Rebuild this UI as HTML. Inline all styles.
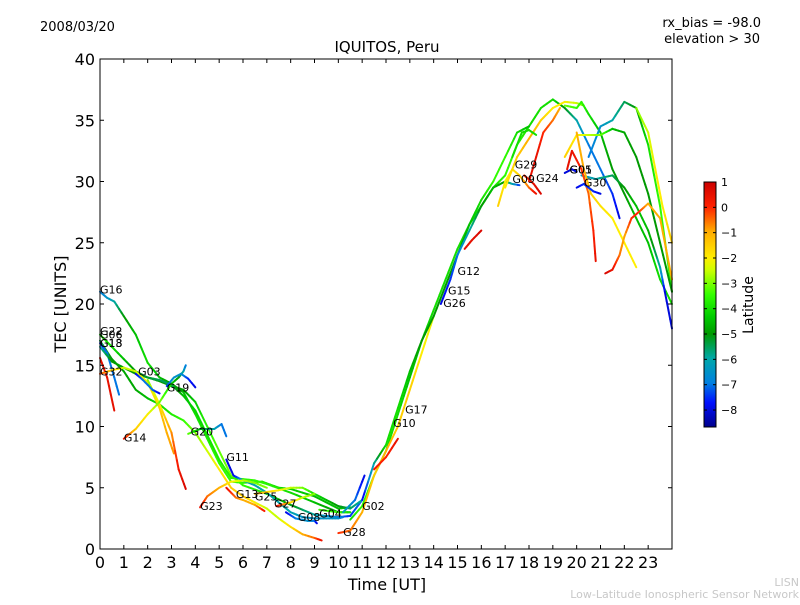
<!DOCTYPE html>
<html><head><meta charset="utf-8"><style>
body{margin:0;background:#fff;}
svg text{font-family:"DejaVu Sans","Liberation Sans",sans-serif;}
</style></head><body>
<svg id="chart" width="800" height="600" xmlns="http://www.w3.org/2000/svg">
<defs>
<linearGradient id="cbgrad" x1="0" y1="1" x2="0" y2="0">
<stop offset="0" stop-color="#00008c"/>
<stop offset="0.1" stop-color="#0010ff"/>
<stop offset="0.18" stop-color="#0080e0"/>
<stop offset="0.28" stop-color="#00a8a8"/>
<stop offset="0.38" stop-color="#009900"/>
<stop offset="0.45" stop-color="#00cc00"/>
<stop offset="0.54" stop-color="#33ff00"/>
<stop offset="0.64" stop-color="#ccff00"/>
<stop offset="0.69" stop-color="#ffee00"/>
<stop offset="0.8" stop-color="#ffaa00"/>
<stop offset="0.9" stop-color="#ff2000"/>
<stop offset="1" stop-color="#cc0000"/>
</linearGradient>
</defs>
<text x="40" y="31" font-size="13">2008/03/20</text>
<text x="761" y="27" font-size="13" text-anchor="end">rx_bias = -98.0</text>
<text x="760" y="43" font-size="13" text-anchor="end">elevation &gt; 30</text>
<text x="387" y="52" font-size="15" text-anchor="middle">IQUITOS, Peru</text>
<g id="plot"></g>
<rect x="100" y="59" width="572" height="490" fill="none" stroke="#000" stroke-width="1"/>
<g id="axes"></g>
<text x="387" y="590" font-size="16" text-anchor="middle">Time [UT]</text>
<text x="66" y="304" font-size="16" text-anchor="middle" transform="rotate(-90 66 304)">TEC [UNITS]</text>
<rect x="704" y="182" width="12" height="245" fill="url(#cbgrad)" stroke="#000" stroke-width="1"/>
<g id="cbticks"></g>
<text x="753" y="305" font-size="14" text-anchor="middle" transform="rotate(-90 753 305)">Latitude</text>
<text x="799" y="586" font-size="11" fill="#c8c8c8" text-anchor="end">LISN</text>
<text x="799" y="598" font-size="11" fill="#c8c8c8" text-anchor="end">Low-Latitude Ionospheric Sensor Network</text>
</svg>
<script>
const xTicks=[0,1,2,3,4,5,6,7,8,9,10,11,12,13,14,15,16,17,18,19,20,21,22,23];
const yTicks=[0,5,10,15,20,25,30,35,40];
const cbTicks=[1,0,-1,-2,-3,-4,-5,-6,-7,-8];
// tracks: [time UT, TEC, latitude]
const trkG16=[[0,21,-7],[0.3,20.5,-6.5],[0.6,20.2,-6],[1,19,-5],[1.5,17.5,-4.5],[2,15.2,-4],[2.5,14,-4.5],[3,13.5,-5],[3.5,12.8,-4.5],[4,11,-4],[4.5,9,-3.8],[5,7,-3.5],[5.5,5.5,-3.5],[6,5.4,-3.5],[6.8,5.5,-3.8],[7.5,5,-4],[8,4.9,-4.2],[9,4.3,-4.5],[10,3.3,-4.5],[10.5,3.4,-4.2]];
const trkG22=[[0,17.5,-4],[0.5,16.5,-4],[1,15.5,-4.5],[1.5,14.5,-5],[2,14,-5.5],[2.5,13.7,-5],[3,13.3,-5],[3.5,13,-5],[4,12,-4.3],[4.5,10,-3.6],[5,8,-3.2],[5.5,6,-3],[6,5.2,-3.5],[7,4.5,-4],[8,3.6,-5],[9,2.8,-6],[10,2.6,-7],[10.5,2.7,-7.5],[11,4,-7]];
const trkG06=[[0,17,-5.5],[0.5,15.5,-5],[1,14.5,-4.8],[1.5,13,-4.8],[2,12.3,-4.5],[2.5,11.8,-4],[3,11,-3.8],[3.5,10.5,-3.5],[4,9.5,-3],[4.5,8,-2.5],[5,6.5,-2],[5.5,5,-1.5],[6,4.3,-1.5],[6.5,3.8,-2],[7,3.3,-2.5],[7.5,2.5,-2.5],[8,1.8,-1.8],[8.5,1.2,-1],[9,0.9,-0.5],[9.3,0.7,0.5]];
const trkG18=[[0,16.8,-7.5],[0.3,16,-7],[0.6,14,-7],[0.8,12.6,-7]];
const trkG13a=[[0,16.5,-6],[0.5,15.3,-5],[1,14.8,-4.8],[1.5,14.3,-5],[2,14,-5.2],[2.5,13.8,-5.5],[3,13.4,-5.5],[3.5,12.5,-4.5],[4,11.3,-4.2],[4.5,9.3,-4],[5,7.3,-3.8],[5.5,5.8,-3.6],[6.5,5.6,-3.5],[7,5.3,-3.6],[8,4.6,-4],[9,3.8,-4.5],[10,3,-5],[10.5,3,-5.5]];
const trkG32r=[[0,15.6,0.5],[0.3,14,0.5],[0.6,11.3,0.5]];
const trkG32=[[0,14.3,0],[0.5,14.6,-1.5],[1,14.8,-2.5],[1.5,14.5,-2.5],[2,13.6,-2],[2.5,11.5,-1.5],[2.8,9.5,-1],[3.1,7.8,-0.8]];
const trkRed=[[2,13.8,-3],[2.5,11.8,-2],[3,9.5,-0.8],[3.3,6.5,0.3],[3.6,4.9,0.8]];
const trkG14=[[1,9,0.5],[1.5,9.8,-1.5],[2,11,-2],[2.5,12,-3],[3,13.5,-4],[3.3,14,-5],[3.5,14.5,-6],[3.6,15,-7]];
const trkG03=[[1.5,14.3,-8],[1.8,13.8,-7],[2.2,13,-7],[2.5,12.7,-8]];
const trkG19=[[2.8,13.3,-7.5],[3.1,14,-6.5],[3.4,14.3,-6.5],[3.7,13.9,-7.5],[4,13.2,-8]];
const trkG20=[[3.7,9.4,-3],[4.2,9.8,-5],[4.8,9.8,-6],[5.1,10.2,-7],[5.3,9.2,-7]];
const trkG11=[[5.3,7.3,-8],[5.6,6,-8],[6,5.6,-6.5],[6.5,5.2,-6],[7,4.6,-6],[7.5,3.8,-6],[8,3,-6],[8.5,2.6,-6.5],[9,2.5,-6.5],[9.5,2.5,-6.5],[10,2.5,-6.5],[10.2,2.6,-7]];
const trkG23=[[4.2,3.4,0.5],[4.5,4.3,-0.5],[5,5,-1],[5.5,5.5,-2],[6,5.6,-2.5],[6.5,5.4,-3],[7,5,-3]];
const trkG13b=[[5.3,5,0.5],[5.7,4.2,-0.5],[6,4,-1],[6.5,3.6,-1],[6.9,3.1,0.3]];
const trkG25=[[6.5,4.5,-1],[7.5,4.8,-2],[8,5,-2.5],[8.5,5,-3],[9,4.5,-4],[9.5,4,-4.5],[10,3.5,-5],[10.5,3.3,-5.5],[11,4,-6]];
const trkG27=[[7.4,3.5,0.5],[8,3.8,-1.5],[8.5,4.2,-2.5],[9,4.5,-3]];
const trkG08=[[7.8,3,-8],[8.2,2.5,-7],[8.7,2.3,-6.5],[9,2.3,-7],[9.1,2.1,-8]];
const trkG04=[[9.2,3.2,-3.5],[10,3,-3.5],[10.5,3,-4]];
const trkBlue=[[10.2,3,-6],[10.7,4,-7],[11.1,6,-8]];
const trkG02=[[10.5,2.4,-4],[11,3.5,-3.5],[11.5,6,-3.5],[12,8,-4],[12.5,11,-4],[13,14,-4.5],[13.5,17,-4.5],[14,19.5,-4],[14.5,22,-4],[15,24.5,-4],[15.5,26.5,-4],[16,28,-4],[16.5,29.5,-4],[17,30.5,-3.5],[17.5,33,-3.5],[18,34.5,-4],[18.5,36,-4],[19,36.7,-4],[19.5,36,-5],[20,35,-6],[20.5,33,-7],[21,31,-7],[21.5,29,-7.5],[21.8,27,-8]];
const trkG28=[[10,1.3,0],[10.5,1.5,-0.5],[11,3,-1],[11.5,6,-1.5],[12,8,-1],[12.5,10,-1.5],[13,13,-1.5],[13.5,16,-2],[14,19,-2.2]];
const trkG10=[[11,4,-8],[11.5,7,-6],[12,8.5,-4],[12.5,11.5,-4],[13,14.5,-4.5],[13.5,17,-5],[14,19,-5],[14.5,21.5,-5],[15,24,-5],[15.5,26.5,-4.5],[16,28.5,-4],[16.5,30,-3.5],[17,32,-3.5],[17.5,34,-4],[18,34.5,-4.5]];
const trkG17=[[11.5,6.5,0.3],[12,7.5,0],[12.5,9,0.5]];
const trkG26=[[14.3,20,-8],[14.7,22,-7.5],[15,24,-7],[15.5,26,-6],[16,28,-5],[16.5,29.5,-4.5],[17,30,-5],[17.3,29.8,-6],[17.6,29.7,-7.5]];
const trkRed2=[[15.3,24.5,0.5],[15.6,25.2,0.5],[16,26,0.8]];
const trkG29=[[16.7,28,-1.5],[17,30,-2],[17.3,31,-2],[17.6,30.5,-1.5],[18,29.5,-0.5],[18.3,29,0.5]];
const trkG24=[[17.8,30.5,0],[18.2,29.8,0.5],[18.5,29,0.8]];
const trkYel=[[17,29.5,-2],[17.5,32,-1.5],[18,33.5,-1],[18.5,35,-1.5],[19,36,-2],[19.5,36.5,-2],[20,36.4,-2.5],[20.3,36.2,-3]];
const trkRedHump=[[18,30,0.5],[18.3,32,0.5],[18.6,34,0],[19,35,-0.5],[19.3,36,-1]];
const trkGrn=[[19.5,36.2,-3],[20,36,-3.5],[20.2,36.5,-3.5],[20.5,35.5,-4],[21,34,-4.5],[21.5,31,-5],[22,29,-5],[22.5,27,-4.5],[23,25,-4.5],[23.5,22,-4],[24,20,-4]];
const trkTealHump=[[20.5,32,-7],[21,34.5,-6.5],[21.5,35,-6],[22,36.5,-5.5],[22.5,36,-5],[23,33,-4],[23.5,28,-3.5],[24,21,-3.5]];
const trkYG=[[22.5,36,-3],[23,34,-2.5],[23.3,31,-2],[23.6,28,-2],[24,25,-1.5]];
const trkG34=[[19.5,32,-1.5],[20,33.8,-2],[20.5,33.8,-2.5],[21,33.8,-3],[21.5,34.3,-4.5],[22,34,-4.8],[22.5,32,-5],[23,29,-5],[23.5,25,-5],[24,21,-5]];
const trkTeal30=[[20.2,30.5,-6.5],[20.8,30.2,-6],[21.5,30.5,-5.5],[22,29.5,-5],[22.5,28,-4.5],[23,26,-4.5],[23.5,23,-6],[23.7,21,-8],[24,18,-8]];
const trkRed3=[[19.6,31,0.5],[19.8,32.5,0.5],[20.2,31,0],[20.5,29,-0.5],[20.7,26,0],[20.8,23.5,0.5]];
const trkOrange=[[20,34,-1],[20.3,31,-1],[20.6,29,-1.5],[21,28,-1.8],[21.5,27,-2],[22,25,-2],[22.5,23,-2]];
const trkRedOr=[[21.2,22.5,0.8],[21.5,22.8,0.5],[21.8,24,-0.5],[22,25.5,-1],[22.3,27,0],[22.6,27.5,0],[23,28.2,-1],[23.5,27,-1],[24,22,-1]];
const trkG05=[[19.5,30.7,-8],[19.8,31,-8],[20,30.8,-8]];
const trkG30=[[20,29.5,-8],[20.3,29.8,-7.5],[20.7,29.2,-7.5],[21,29,-8]];
const trkGrnShort=[[17.3,32,-4],[17.7,34,-4],[18,34.2,-4],[18.3,33.8,-4]];
const tracks=[trkG16,trkG22,trkG06,trkG18,trkG13a,trkG32r,trkG32,trkRed,trkG14,trkG03,trkG19,trkG20,trkG11,trkG23,trkG13b,trkG25,trkG27,trkG08,trkG04,trkBlue,trkG02,trkG28,trkG10,trkG17,trkG26,trkRed2,trkG29,trkG24,trkYel,trkRedHump,trkGrn,trkTealHump,trkYG,trkG34,trkTeal30,trkRed3,trkOrange,trkRedOr,trkG05,trkG30,trkGrnShort];
const labelNames=["G16","G22","G06","G13","G18","G32","G03","G19","G14","G20","G11","G23","G13","G25","G27","G08","G04","G28","G02","G10","G17","G12","G15","G26","G29","G09","G24","G05","G01","G30"];
const labelT=[0,0,0,0,0,0,1.6,2.8,1,3.8,5.3,4.2,5.7,6.5,7.3,8.3,9.2,10.2,11,12.3,12.8,15,14.6,14.4,17.4,17.3,18.3,19.7,19.7,20.3];
const labelV=[21.2,17.8,17.5,16.8,16.8,14.5,14.5,13.2,9.1,9.6,7.5,3.5,4.5,4.3,3.7,2.6,2.9,1.4,3.5,10.3,11.4,22.7,21.1,20.1,31.4,30.2,30.3,31,31,29.9];
const NS="http://www.w3.org/2000/svg";
const X=t=>100+t*572/24, Y=v=>549-v*490/40;
const cMin=-8.67,cMax=1;
const stops=[[0,[0,0,140]],[0.1,[0,16,255]],[0.18,[0,128,224]],[0.28,[0,168,168]],[0.38,[0,153,0]],[0.45,[0,204,0]],[0.54,[51,255,0]],[0.64,[204,255,0]],[0.69,[255,238,0]],[0.8,[255,170,0]],[0.9,[255,32,0]],[1,[204,0,0]]];
function cmap(v){let f=(v-cMin)/(cMax-cMin);f=Math.max(0,Math.min(1,f));
for(let i=1;i<stops.length;i++){if(f<=stops[i][0]){const a=stops[i-1],b=stops[i],r=(f-a[0])/(b[0]-a[0]);
const c=a[1].map((x,k)=>Math.round(x+(b[1][k]-x)*r));return `rgb(${c[0]},${c[1]},${c[2]})`;}}return "rgb(204,0,0)";}
const plot=document.getElementById('plot');
tracks.forEach((tr,ti)=>{
 const g=document.createElementNS(NS,'g');
 
 
 for(let i=1;i<tr.length;i++){
  const a=tr[i-1],b=tr[i];
  const steps=4;
  for(let s=0;s<steps;s++){
   const f0=s/steps,f1=(s+1)/steps;
   const l=document.createElementNS(NS,'line');
   l.setAttribute('x1',X(a[0]+(b[0]-a[0])*f0));l.setAttribute('y1',Y(a[1]+(b[1]-a[1])*f0));
   l.setAttribute('x2',X(a[0]+(b[0]-a[0])*f1));l.setAttribute('y2',Y(a[1]+(b[1]-a[1])*f1));
   l.setAttribute('stroke',cmap(a[2]+(b[2]-a[2])*(f0+f1)/2));
   l.setAttribute('stroke-width','2');l.setAttribute('stroke-linecap','round');
   g.appendChild(l);
  }
 }
 plot.appendChild(g);
});
labelNames.forEach((n,i)=>{
 const t=document.createElementNS(NS,'text');
 
 
 t.setAttribute('x',X(labelT[i]));t.setAttribute('y',Y(labelV[i])+4);
 t.setAttribute('font-size','11');t.textContent=n;plot.appendChild(t);
});
const axes=document.getElementById('axes');
function ln(x1,y1,x2,y2,p){const l=document.createElementNS(NS,'line');l.setAttribute('x1',x1);l.setAttribute('y1',y1);l.setAttribute('x2',x2);l.setAttribute('y2',y2);l.setAttribute('stroke','#000');l.setAttribute('stroke-width','1');p.appendChild(l);return l;}
xTicks.forEach(v=>{
 const x=X(v);
 const t1=ln(x,549,x,545,axes);
 
 
 ln(x,59,x,63,axes);
 const t=document.createElementNS(NS,'text');
 
 
 t.setAttribute('x',x);t.setAttribute('y',568);t.setAttribute('font-size','16');t.setAttribute('text-anchor','middle');t.textContent=v;axes.appendChild(t);
});
yTicks.forEach(v=>{
 const y=Y(v);
 const t1=ln(100,y,104,y,axes);
 
 
 ln(672,y,668,y,axes);
 const t=document.createElementNS(NS,'text');
 
 
 t.setAttribute('x',95);t.setAttribute('y',y+6);t.setAttribute('font-size','16');t.setAttribute('text-anchor','end');t.textContent=v;axes.appendChild(t);
});
const cb=document.getElementById('cbticks');
cbTicks.forEach(v=>{
 const y=427-(v-cMin)/(cMax-cMin)*245;
 ln(704,y,707,y,cb);ln(716,y,713,y,cb);
 const t=document.createElementNS(NS,'text');
 
 
 t.setAttribute('x',721);t.setAttribute('y',y+4);t.setAttribute('font-size','11');t.textContent=v<0?'\u2212'+(-v):v;cb.appendChild(t);
});
</script>
</body></html>
